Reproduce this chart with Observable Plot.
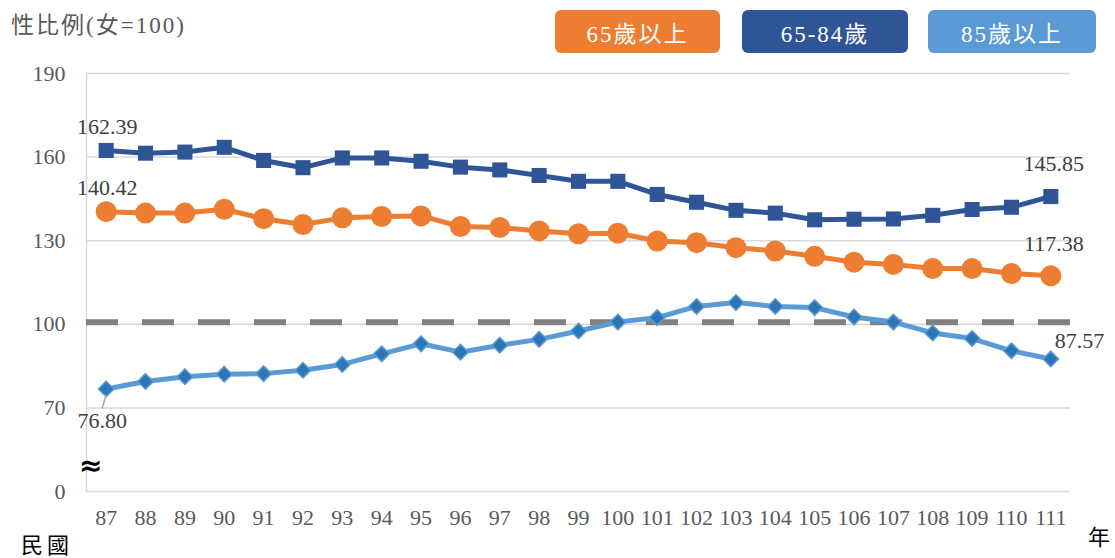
<!DOCTYPE html>
<html>
<head>
<meta charset="utf-8">
<script src="https://cdn.jsdelivr.net/npm/d3@7"></script>
<script src="https://cdn.jsdelivr.net/npm/@observablehq/plot@0.6"></script>
<style>
  body { margin: 0; background: #fff; }
  #wrap { position: relative; width: 1115px; height: 558px; font-family: "Liberation Serif", "Noto Sans CJK TC", serif; }
  .abs { position: absolute; white-space: nowrap; line-height: 1; }
  .leg { position: absolute; top: 10px; height: 43px; border-radius: 6px; color: #fff; font-size: 23px; letter-spacing: 2px; display: flex; align-items: center; justify-content: center; }
</style>
</head>
<body>
<div id="wrap"></div>
<script>
const years = [87,88,89,90,91,92,93,94,95,96,97,98,99,100,101,102,103,104,105,106,107,108,109,110,111];
const total65 = [140.42,139.9,139.9,141.3,137.9,135.8,138.2,138.7,138.9,135.1,134.7,133.5,132.5,132.7,129.9,129.3,127.5,126.3,124.4,122.3,121.5,120.0,120.0,118.2,117.38];
const age6584 = [162.39,161.4,161.8,163.5,158.8,156.2,159.7,159.7,158.5,156.4,155.4,153.4,151.3,151.3,146.6,143.8,140.9,139.9,137.5,137.7,137.8,139.1,141.2,142.0,145.85];
const age85 = [76.80,79.5,81.2,82.1,82.3,83.5,85.6,89.4,93.0,90.0,92.5,94.6,97.6,100.8,102.4,106.4,107.8,106.4,106.0,102.6,100.8,96.9,94.9,90.5,87.57];
const yTicks = [40,70,100,130,160,190];
const yTickLabels = ["0","70","100","130","160","190"];
const refLine = [100.7];
const seriesNames = ["65歲以上","65-84歲","85歲以上"];
const colors = ["#ED7D31","#2F5597","#5B9BD5"];

const rows = (vals) => years.map((y,i) => ({year: y, v: vals[i]}));
const s1 = rows(total65), s2 = rows(age6584), s3 = rows(age85);
const first = d => [d[0]];
const last = d => [d[d.length-1]];
const lblStyle = {text: d => d.v.toFixed(2), fontSize: 22, fill: "#404040", fontFamily: "Liberation Serif"};

const chart = Plot.plot({
  width: 1115, height: 558,
  marginLeft: 86, marginRight: 45, marginTop: 73, marginBottom: 67,
  style: {fontFamily: "Liberation Serif", background: "transparent"},
  x: {type: "point", domain: years, padding: 0.5, round: false, label: null},
  y: {domain: [40,190], label: null},
  marks: [
    Plot.gridY(yTicks, {stroke: "#d9d9d9", strokeOpacity: 1, strokeWidth: 1.5}),
    Plot.frame({anchor: "left", stroke: "#d9d9d9", strokeWidth: 1.5}),
    Plot.axisY({ticks: yTicks, tickSize: 0, tickPadding: 21, tickFormat: d => yTickLabels[yTicks.indexOf(d)], fontSize: 22, fill: "#595959"}),
    Plot.axisX({tickSize: 0, tickPadding: 18, fontSize: 22, fill: "#595959"}),
    Plot.ruleY(refLine, {stroke: "#808080", strokeWidth: 6, strokeDasharray: "32,24"}),
    Plot.line(s1, {x: "year", y: "v", stroke: colors[0], strokeWidth: 5}),
    Plot.dot(s1, {x: "year", y: "v", r: 10.5, fill: colors[0], stroke: "none"}),
    Plot.line(s2, {x: "year", y: "v", stroke: colors[1], strokeWidth: 5}),
    Plot.dot(s2, {x: "year", y: "v", symbol: "square", r: 8.5, fill: colors[1], stroke: "none"}),
    Plot.line(s3, {x: "year", y: "v", stroke: colors[2], strokeWidth: 5}),
    Plot.dot(s3, {x: "year", y: "v", symbol: "diamond2", r: 7, fill: "#2E75B6", stroke: colors[2], strokeWidth: 1.5}),
    Plot.text(first(s2), {x: "year", y: "v", ...lblStyle, dy: -23, dx: 1}),
    Plot.text(first(s1), {x: "year", y: "v", ...lblStyle, dy: -24, dx: 1}),
    Plot.text(last(s2), {x: "year", y: "v", ...lblStyle, dy: -33, dx: 3}),
    Plot.text(last(s1), {x: "year", y: "v", ...lblStyle, dy: -32, dx: 3}),
    Plot.text(last(s3), {x: "year", y: "v", ...lblStyle, dy: -18, dx: 4, textAnchor: "start"}),
    Plot.text(first(s3), {x: "year", y: "v", ...lblStyle, dy: 32, dx: -4}),
    Plot.link(first(s3), {x1: "year", x2: "year", y1: "v", y2: "v", stroke: "#a6a6a6", strokeWidth: 1.5,
      render: (index, scales, values, dims, ctx, next) => {
        const g = next(index, scales, values, dims, ctx);
        d3.select(g).selectAll("path").attr("d", (_, j) => {
          const i = index[j];
          const x = values.x1[i], y = values.y1[i];
          return `M${x-4},${y+19}L${x},${y+6}`;
        });
        return g;
      }})
  ]
});

const wrap = document.getElementById("wrap");
chart.style.position = "absolute";
chart.style.left = "0"; chart.style.top = "0";
wrap.appendChild(chart);

function addText(txt, css) {
  const el = document.createElement("div");
  el.className = "abs";
  el.textContent = txt;
  Object.assign(el.style, css);
  wrap.appendChild(el);
}
addText("性比例(女=100)", {left: "11px", top: "14px", fontSize: "23px", letterSpacing: "2px", color: "#595959"});
addText("民國", {left: "21px", top: "535px", fontSize: "22px", letterSpacing: "4px", color: "#000"});
addText("年", {left: "1088px", top: "527px", fontSize: "22px", color: "#000"});
addText("≈", {left: "79px", top: "452px", fontSize: "28px", fontWeight: "bold", color: "#000", fontFamily: "DejaVu Sans"});

const legPos = [[555,165],[742,166],[928,168]];
seriesNames.forEach((n,i) => {
  const el = document.createElement("div");
  el.className = "leg";
  el.textContent = n;
  el.style.left = legPos[i][0] + "px";
  el.style.width = legPos[i][1] + "px";
  el.style.background = colors[i];
  wrap.appendChild(el);
});
</script>
</body>
</html>
